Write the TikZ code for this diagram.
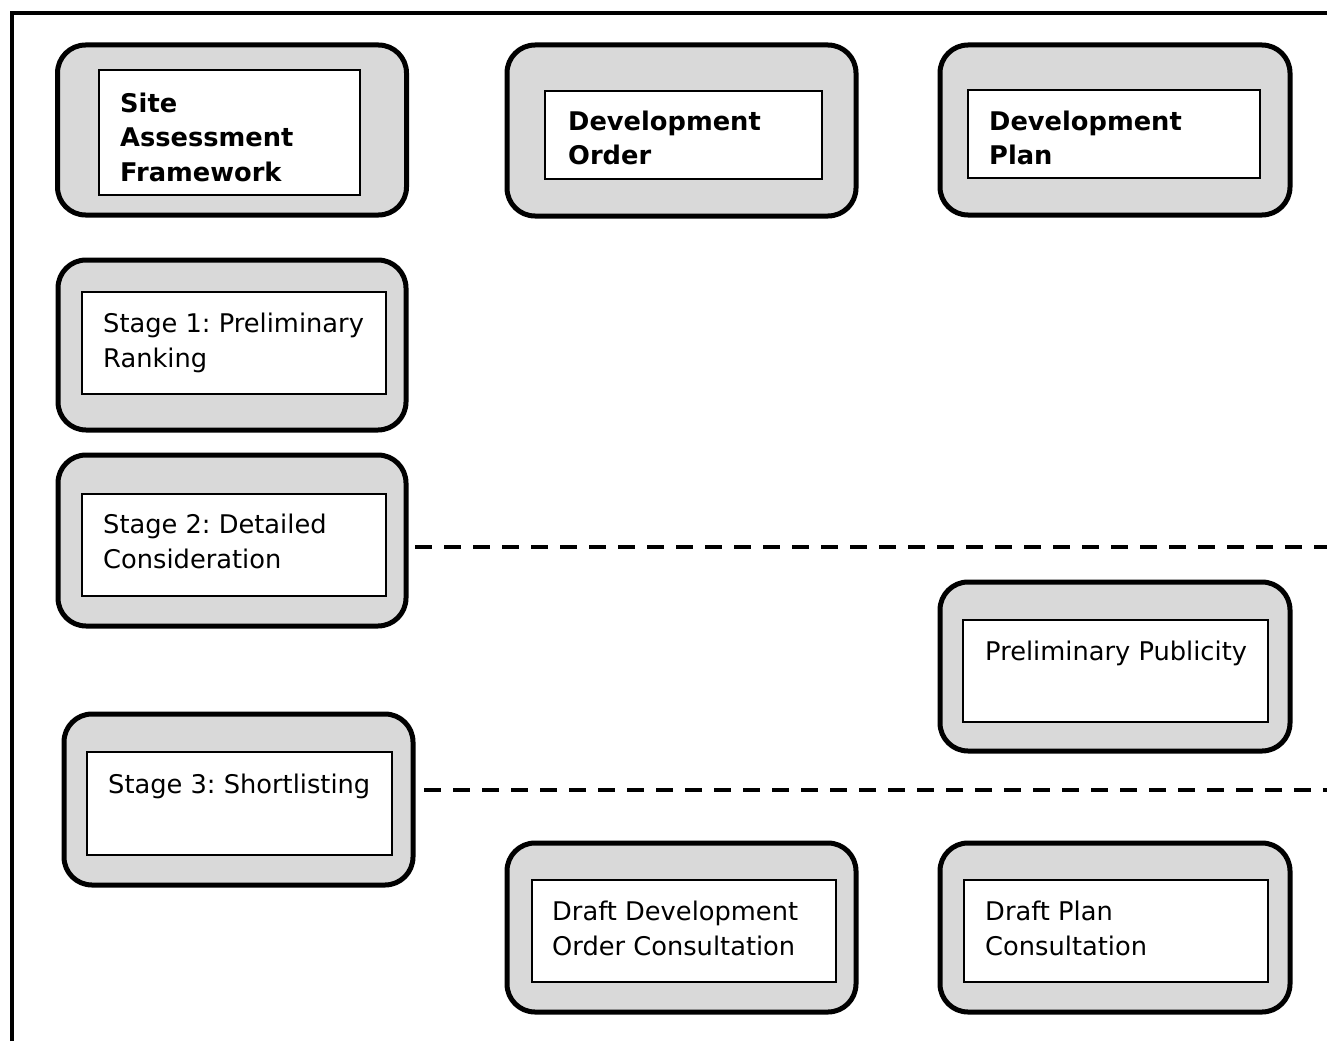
\documentclass[tikz,border=0pt]{standalone}
\usepackage{fontspec}
\setmainfont{DejaVu Sans}
\frenchspacing
\definecolor{boxgray}{HTML}{D9D9D9}
\newcommand\boxlines[1]{\begin{tabular}[t]{@{}l@{}}#1\end{tabular}}
\begin{document}
\begin{tikzpicture}[x=1pt,y=-1pt,
  outerbox/.style={draw=black, line width=5pt, fill=boxgray, rounded corners=28pt, inner sep=0pt},
  innerbox/.style={draw=black, line width=1.5pt, fill=white, inner sep=0pt},
  lbl/.style={anchor=base west, inner sep=0pt, font=\fontsize{25.7}{35}\selectfont\frenchspacing},
  blbl/.style={lbl, font=\fontsize{25.7}{34.5}\selectfont\bfseries},
  divider/.style={line width=3.5pt, dash pattern=on 17pt off 12pt}
]
\useasboundingbox (0,0) rectangle (1327,1041);
% frame
\coordinate (fbl) at (12,1041);
\coordinate (ftl) at (12,13);
\coordinate (ftr) at (1327,13);
\draw[line width=4.5pt, line join=miter] (fbl) -- (ftl) -- (ftr);

% outer rounded boxes
\node[outerbox, minimum width=349pt, minimum height=170pt] (saf) at (232,130) {};
\node[outerbox, minimum width=349pt, minimum height=171pt] (do) at (681.5,130.5) {};
\node[outerbox, minimum width=350pt, minimum height=170pt] (dp) at (1115,130) {};
\node[outerbox, minimum width=348pt, minimum height=170pt] (s1) at (232,345) {};
\node[outerbox, minimum width=348pt, minimum height=171pt] (s2) at (232,540.5) {};
\node[outerbox, minimum width=350pt, minimum height=169pt] (pp) at (1115,666.5) {};
\node[outerbox, minimum width=349pt, minimum height=171pt] (s3) at (238.5,799.5) {};
\node[outerbox, minimum width=349pt, minimum height=169pt] (ddo) at (681.5,927.5) {};
\node[outerbox, minimum width=350pt, minimum height=169pt] (dpc) at (1115,927.5) {};

% inner rectangles
\node[innerbox, minimum width=261pt, minimum height=125pt] (safi) at (229.5,132.5) {};
\node[innerbox, minimum width=277pt, minimum height=88pt] (doi) at (683.5,135) {};
\node[innerbox, minimum width=292pt, minimum height=88pt] (dpi) at (1114,134) {};
\node[innerbox, minimum width=304pt, minimum height=102pt] (s1i) at (234,343) {};
\node[innerbox, minimum width=304pt, minimum height=102pt] (s2i) at (234,545) {};
\node[innerbox, minimum width=305pt, minimum height=102pt] (ppi) at (1115.5,671) {};
\node[innerbox, minimum width=305pt, minimum height=103pt] (s3i) at (239.5,803.5) {};
\node[innerbox, minimum width=304pt, minimum height=102pt] (ddoi) at (684,931) {};
\node[innerbox, minimum width=304pt, minimum height=102pt] (dpci) at (1116,931) {};

% labels
\node[blbl] (saft) at (120,112) {\boxlines{Site\\Assessment\\Framework}};
\node[blbl] (dot) at (568,130) {\boxlines{Development\\Order}};
\node[blbl] (dpt) at (989,130) {\boxlines{Development\\Plan}};
\node[lbl] (s1t) at (103,332) {\boxlines{Stage 1: Preliminary\\Ranking}};
\node[lbl] (s2t) at (103,533) {\boxlines{Stage 2: Detailed\\Consideration}};
\node[lbl] (ppt) at (985,660) {Preliminary Publicity};
\node[lbl] (s3t) at (108,793) {Stage 3: Shortlisting};
\node[lbl] (ddot) at (552,920) {\boxlines{Draft Development\\Order Consultation}};
\node[lbl] (dpct) at (985,920) {\boxlines{Draft Plan\\Consultation}};

% dashed dividers
\coordinate (d1s) at (415,547);
\coordinate (d1e) at (1327,547);
\coordinate (d2s) at (424,790);
\coordinate (d2e) at (1327,790);
\draw[divider] (d1s) -- (d1e);
\draw[divider] (d2s) -- (d2e);
\end{tikzpicture}
\end{document}
